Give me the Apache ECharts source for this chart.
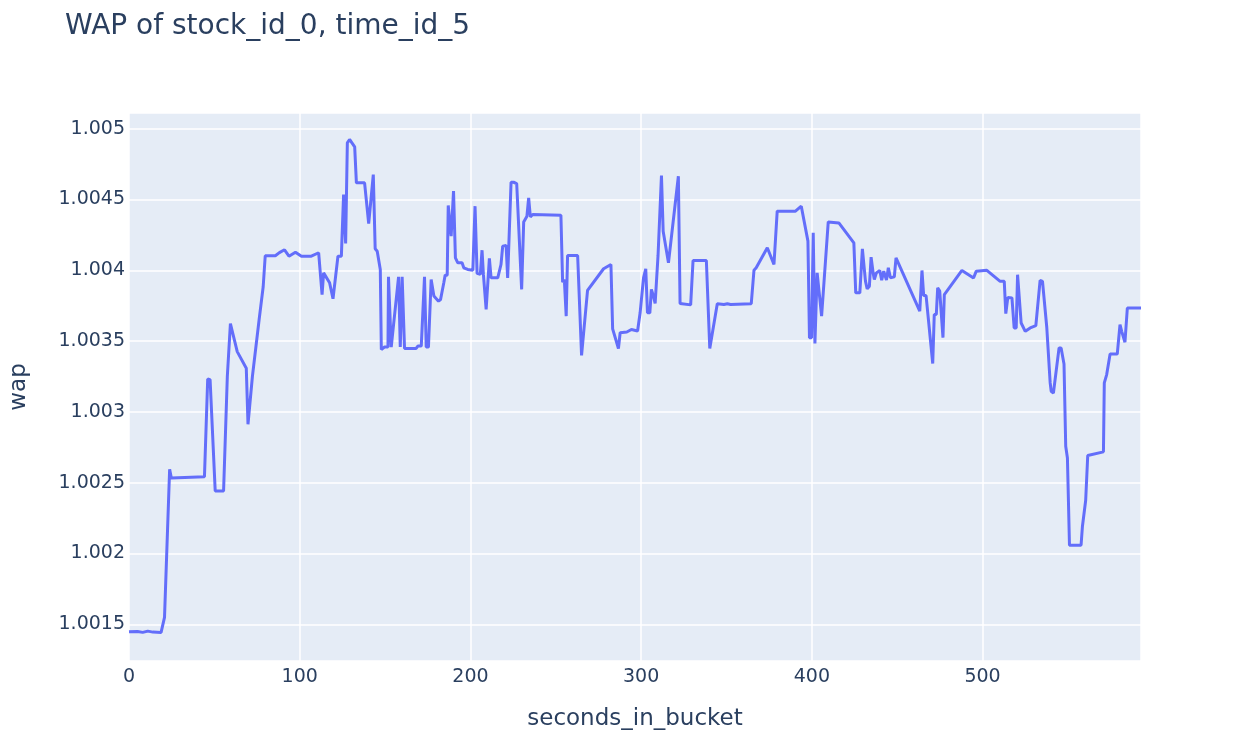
<!DOCTYPE html>
<html>
<head>
<meta charset="utf-8">
<script src="https://cdn.jsdelivr.net/npm/echarts@6/dist/echarts.min.js"></script>
<style>
html,body{margin:0;padding:0;background:#fff;}
#chart{width:1245px;height:755px;}
</style>
</head>
<body>
<div id="chart"></div>
<script>
const titleText = 'WAP of stock_id_0, time_id_5';
const xAxisTitle = 'seconds_in_bucket';
const yAxisTitle = 'wap';

const seconds = [
0,5,8,11,14,18.8,20.8,23.8,24.8,44.2,46.1,47.5,50.5,55.4,57.6,59.4,60.4,63.4,68.7,69.7,
72.3,76.2,78.6,79.8,85.7,88.1,91.1,93.7,97.5,101,106.8,111.1,113.1,114,117.5,119.5,122.4,124.4,125.7,126.9,
127.9,129.2,132.2,133.2,138,140.4,141.5,143.1,144.2,145.4,147.2,147.8,149.7,151.7,152,153.6,157.9,158.9,160,161.4,
168.2,169.2,171.2,173.1,174.1,175.4,177,178.6,181.3,182.5,184.4,185.2,186.4,187,188.7,190.1,191.2,192.6,195.1,196.1,
198.4,201.4,202.7,203.9,205.8,206.8,207.6,209.2,211.1,212.1,216,217.9,218.9,220.9,221.8,223.8,225.3,226.1,227.1,230,
231.2,232.2,233.1,234.1,235.1,236.5,253,254,255,256.1,256.9,262.8,265.1,268.6,278,282.3,283.3,286.7,287.7,291.6,
294.3,297.9,299.4,301.4,302.7,303.7,305.1,306,307.2,308.2,309.2,309.9,310.9,311.9,312.9,313.8,316,318.9,321.8,322.8,
329,330.4,338.2,340.2,344.6,348.5,350.5,352.4,364.5,366.1,367.4,373.9,377.8,379.7,390.4,391.4,393.8,397.7,398.6,399.8,
400.8,401.8,403.1,405.7,409.6,415.8,424.6,425.7,428.1,429.6,431.4,432.4,433.7,434.7,435.9,436.6,437.8,439.8,440.9,442.1,
443.7,444.8,446,448.3,449.3,463.2,464.5,465.5,466.9,470.8,471.7,472.9,473.7,474.9,476.8,477.6,487.9,494.7,496.3,502.5,
510.3,512.7,513.6,514.8,517.2,518.5,519.7,520.5,521.4,522.6,523.6,525,527.9,531.2,533.7,535.1,537.6,538.6,539.6,540.2,
541.5,544.8,546,547.7,548.7,549.7,550.9,557.7,558.5,560.4,561.6,570.8,571.3,572.7,573.7,574.7,578.9,580.5,581.5,583.4,
584.8,592.8
];

const wap = [
1.001447,1.001450,1.001443,1.001452,1.001445,1.001443,1.001549,1.002595,1.002533,1.002543,1.003232,1.003228,1.002442,1.002442,1.003252,1.003624,1.003612,1.003426,1.003309,1.002913,
1.003252,1.003649,1.003884,1.004103,1.004103,1.004125,1.004145,1.004100,1.004128,1.004100,1.004100,1.004124,1.003829,1.003982,1.003912,1.003799,1.004100,1.004100,1.004535,1.004189,
1.004900,1.004924,1.004872,1.004618,1.004618,1.004330,1.004330,1.004676,1.004152,1.004135,1.004006,1.003441,1.003458,1.003458,1.003954,1.003458,1.003954,1.003458,1.003954,1.003448,
1.003448,1.003465,1.003465,1.003954,1.003458,1.003458,1.003935,1.003818,1.003782,1.003794,1.003912,1.003966,1.003966,1.004458,1.004241,1.004559,1.004088,1.004053,1.004053,1.004018,
1.004006,1.004001,1.004453,1.003978,1.003971,1.004142,1.003971,1.003724,1.004084,1.003947,1.003947,1.004041,1.004171,1.004175,1.003947,1.004622,1.004622,1.004636,1.004613,1.003865,
1.004342,1.004352,1.004382,1.004512,1.004378,1.004394,1.004389,1.003916,1.003935,1.003676,1.004105,1.004105,1.003399,1.003858,1.004011,1.004041,1.003587,1.003448,1.003559,1.003564,
1.003582,1.003571,1.003700,1.003947,1.004011,1.003700,1.003700,1.003865,1.003818,1.003766,1.003766,1.004105,1.004100,1.004669,1.004276,1.004276,1.004053,1.004359,1.004665,1.003766,
1.003756,1.004069,1.004069,1.003448,1.003764,1.003759,1.003764,1.003759,1.003764,1.004001,1.004018,1.004159,1.004041,1.004418,1.004418,1.004429,1.004453,1.004206,1.003524,1.003524,
1.004265,1.003483,1.003982,1.003676,1.004342,1.004335,1.004194,1.003841,1.003841,1.004152,1.003924,1.003869,1.003888,1.004093,1.003982,1.003935,1.003982,1.003999,1.003931,1.003994,
1.003931,1.004018,1.003947,1.003954,1.004088,1.003712,1.003999,1.003822,1.003822,1.003342,1.003688,1.003688,1.003876,1.003853,1.003524,1.003829,1.003999,1.003946,1.003994,1.004000,
1.003922,1.003922,1.003694,1.003809,1.003805,1.003593,1.003593,1.003969,1.003958,1.003628,1.003616,1.003569,1.003593,1.003609,1.003929,1.003922,1.003598,1.003588,1.003205,1.003146,
1.003134,1.003452,1.003452,1.003339,1.002758,1.002675,1.002059,1.002059,1.002193,1.002376,1.002692,1.002718,1.003205,1.003264,1.003264,1.003409,1.003409,1.003616,1.003569,1.003492,
1.003734,1.003734
];

const xTickStep = 100;
const yTickStep = 0.0005;
const yMin = 1.001241;
const yMax = 1.005111;

const data = seconds.map((s, i) => [s, wap[i]]);

const txt = '#2a3f5f';
const font = 'DejaVu Sans';

const chart = echarts.init(document.getElementById('chart'), null, {renderer: 'canvas'});
chart.setOption({
  animation: false,
  backgroundColor: '#ffffff',
  title: {
    text: titleText,
    left: 60,
    top: 8,
    textStyle: {fontFamily: font, fontSize: 28, fontWeight: 'normal', color: txt}
  },
  grid: {
    left: 128, top: 113, width: 1013, height: 548,
    show: true, backgroundColor: '#E5ECF6', borderWidth: 0
  },
  xAxis: {
    type: 'value',
    min: 0,
    max: seconds[seconds.length - 1],
    interval: xTickStep,
    name: xAxisTitle,
    nameLocation: 'middle',
    nameGap: 47,
    nameTextStyle: {fontFamily: font, fontSize: 23, color: txt},
    axisLine: {show: false},
    axisTick: {show: false},
    axisLabel: {
      fontFamily: font, fontSize: 19, color: txt, margin: 7,
      showMaxLabel: false,
      formatter: v => (Math.abs(v / xTickStep - Math.round(v / xTickStep)) < 1e-6 ? String(Math.round(v)) : '')
    },
    splitLine: {show: true, lineStyle: {color: '#ffffff', width: 1.5}}
  },
  yAxis: {
    type: 'value',
    min: yMin,
    max: yMax,
    splitNumber: 8,
    name: yAxisTitle,
    nameLocation: 'middle',
    nameGap: 98,
    nameTextStyle: {fontFamily: font, fontSize: 23, color: txt},
    axisLine: {show: false},
    axisTick: {show: false},
    axisLabel: {
      fontFamily: font, fontSize: 19, color: txt, margin: 4,
      showMinLabel: false, showMaxLabel: false,
      formatter: v => {
        const k = v / yTickStep;
        if (Math.abs(k - Math.round(k)) > 1e-6) return '';
        return String(parseFloat((Math.round(k) * yTickStep).toFixed(6)));
      }
    },
    splitLine: {show: true, lineStyle: {color: '#ffffff', width: 1.5}}
  },
  series: [{
    type: 'line',
    data: data,
    showSymbol: false,
    smooth: false,
    lineStyle: {color: '#636EFA', width: 3},
    itemStyle: {color: '#636EFA'}
  }]
});
</script>
</body>
</html>
